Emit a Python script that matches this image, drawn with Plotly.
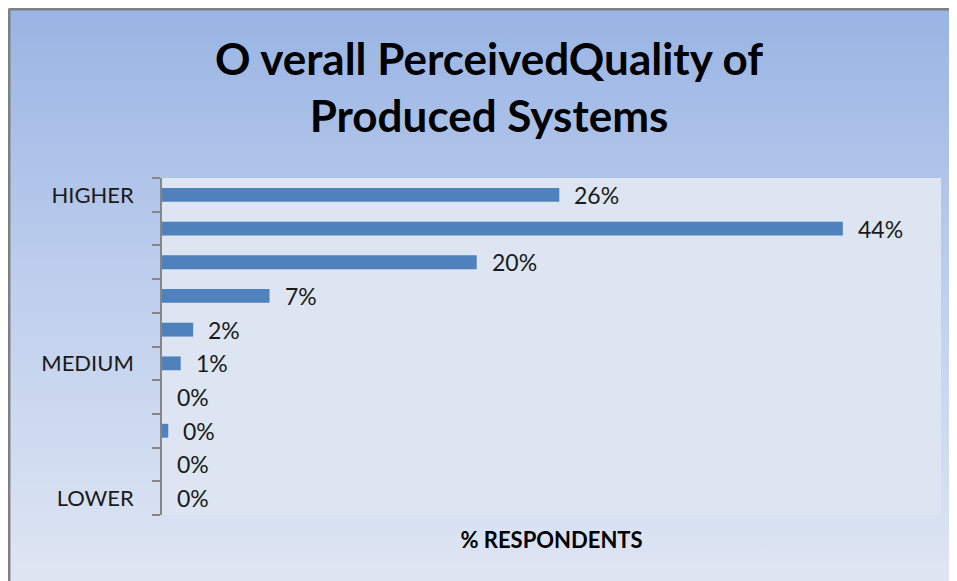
import base64
import plotly.graph_objects as go

# ---- data ----
categories = ["HIGHER", "", "", "", "", "MEDIUM", "", "", "", "LOWER"]
values = [25.5, 43.7, 20.2, 6.9, 2.0, 1.2, 0.0, 0.4, 0.0, 0.0]
value_labels = ["26%", "44%", "20%", "7%", "2%", "1%", "0%", "0%", "0%", "0%"]
x_max = 50

title_text = "O verall PerceivedQuality of<br>Produced Systems"
x_title = "% RESPONDENTS"

# ---- layout geometry (page has an 8px body margin) ----
W, H = 949, 573
L, R, T, B = 154, 16, 170, 66
pw, ph = W - L - R, H - T - B

def px_to_paper_x(px):
    return (px - L) / pw

def px_to_paper_y(py):
    return (H - B - py) / ph

n = len(categories)
ypos = [n - 1 - i for i in range(n)]  # first category at top

fig = go.Figure()
fig.add_trace(go.Bar(
    x=values, y=ypos, orientation="h",
    marker=dict(color="#4f81bd", line=dict(color="#4f81bd", width=0)),
    width=0.41, hoverinfo="skip",
))

annotations = []
for v, yp, lab in zip(values, ypos, value_labels):
    annotations.append(dict(
        x=v, y=yp, xref="x", yref="y", text=lab, showarrow=False,
        xanchor="left", yanchor="middle", xshift=13,
        font=dict(family="Lato", size=23, color="#1a1a1a"),
    ))

svg = (
    '<svg xmlns="http://www.w3.org/2000/svg" width="100" height="100" preserveAspectRatio="none">'
    '<defs><linearGradient id="g" x1="0" y1="0" x2="0" y2="1">'
    '<stop offset="0" stop-color="#99b4e3"/>'
    '<stop offset="0.45" stop-color="#bccded"/>'
    '<stop offset="1" stop-color="#dfe6f3"/>'
    '</linearGradient></defs>'
    '<rect width="100" height="100" fill="url(#g)"/></svg>'
)
src = "data:image/svg+xml;base64," + base64.b64encode(svg.encode()).decode()

fx0, fx1 = px_to_paper_x(0), px_to_paper_x(W)
fy0, fy1 = px_to_paper_y(H), px_to_paper_y(0)
lx = px_to_paper_x(1.2)
ly = px_to_paper_y(1.2)

fig.update_layout(
    width=W, height=H,
    margin=dict(l=L, r=R, t=T, b=B, pad=0),
    paper_bgcolor="#dfe6f3",
    plot_bgcolor="#dce5f1",
    showlegend=False,
    title=dict(
        text=title_text, x=481 / W, xanchor="center", xref="container",
        y=1 - 67 / H, yanchor="top", yref="container",
        font=dict(family="Lato", size=44, color="black", weight="bold"),
    ),
    images=[dict(
        source=src, xref="paper", yref="paper",
        x=fx0, y=fy1, sizex=fx1 - fx0, sizey=fy1 - fy0,
        xanchor="left", yanchor="top", sizing="stretch", layer="below",
    )],
    shapes=[
        dict(type="rect", xref="paper", yref="paper", x0=0, x1=1, y0=0, y1=1,
             fillcolor="#dce5f1", line=dict(width=0), layer="between"),
        dict(type="line", xref="paper", yref="paper", x0=lx, x1=lx, y0=fy0, y1=ly,
             line=dict(color="#7f7f7f", width=2.5)),
        dict(type="line", xref="paper", yref="paper", x0=lx, x1=fx1, y0=ly, y1=ly,
             line=dict(color="#7f7f7f", width=2.5)),
    ],
    annotations=annotations,
)

fig.update_xaxes(
    range=[0, x_max], showgrid=False, zeroline=False, showticklabels=False,
    ticks="", showline=False,
    title=dict(text=x_title, font=dict(family="Lato", size=22, color="black", weight="bold"),
               standoff=17),
)

label_vals = [yp for yp, c in zip(ypos, categories) if c]
label_text = [c for c in categories if c]
fig.update_yaxes(
    range=[-0.5, n - 0.5], showgrid=False, zeroline=False,
    showline=True, linecolor="#868686", linewidth=1.5,
    tickmode="array", tickvals=label_vals, ticktext=label_text,
    ticks="", ticklabelstandoff=22,
    tickfont=dict(family="Lato", size=22, color="#1a1a1a"),
    minor=dict(tickmode="linear", tick0=-0.5, dtick=1, ticks="outside",
               ticklen=8, tickcolor="#868686", tickwidth=1.5),
)

fig.write_html("out.html")
